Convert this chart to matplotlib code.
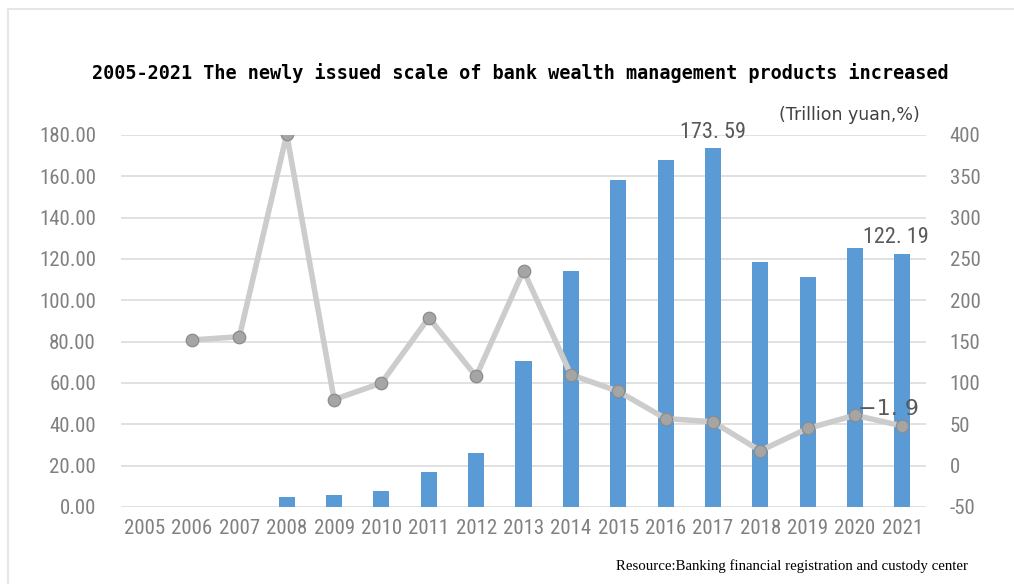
import matplotlib
matplotlib.use("Agg")
import matplotlib.pyplot as plt
import matplotlib.patches as mpatches
from matplotlib import font_manager as fm
import numpy as np

years = [str(y) for y in range(2005, 2022)]
# newly issued scale (trillion yuan), left axis
scale = [0, 0, 0, 4.9, 6.0, 7.9, 16.9, 26.3, 70.7, 114.3, 158.0, 167.7, 173.59,
         118.5, 111.5, 125.4, 122.19]
# growth rate (%), right axis; 2005 missing
growth = [np.nan, 152, 156, 401, 80, 100, 179, 108, 236, 110, 90, 57, 53,
          18, 45, 61, 48]
left_ticks = [0, 20, 40, 60, 80, 100, 120, 140, 160, 180]
right_ticks = [-50, 0, 50, 100, 150, 200, 250, 300, 350, 400]

C_BAR = "#5B9BD5"
C_LINE = "#CCCCCC"
C_MARK = "#A5A5A5"
C_TICK = "#808080"
C_GRID = "#D9D9D9"

available = {f.name for f in fm.fontManager.ttflist}
narrow = None
for cand in ["Liberation Sans Narrow", "Roboto Condensed", "Open Sans Condensed",
             "DejaVu Sans Condensed"]:
    if cand in available:
        narrow = cand
        break
if narrow is None:
    narrow = "Liberation Sans"
# size factor so wider fallbacks keep the reference's glyph width
k = 1.0 if narrow in ("Liberation Sans Narrow", "Roboto Condensed") else 0.87

plt.rcParams.update({"font.family": [narrow, "DejaVu Sans"],
                     "axes.unicode_minus": False})

fig = plt.figure(figsize=(10.14, 5.84), dpi=100)
fig.patch.set_facecolor("white")
ax = fig.add_axes([121 / 1014, 1 - 507 / 584, 805 / 1014, 372 / 584])
ax2 = ax.twinx()

x = np.arange(len(years))
ax.bar(x, scale, width=0.34, color=C_BAR, zorder=2)
ax.set_xlim(-0.5, len(years) - 0.5)
ax.set_ylim(0, 180)
ax.set_yticks(left_ticks)
ax.set_yticklabels([f"{v:.2f}" for v in left_ticks])
ax.set_xticks(x)
ax.set_xticklabels(years)
ax.grid(axis="y", color=C_GRID, lw=1.1, zorder=0)
ax.set_axisbelow(True)

ax2.plot(x, growth, color=C_LINE, lw=4, marker="o", markersize=9,
         markerfacecolor=C_MARK, markeredgecolor="#8C8C8C", markeredgewidth=0.9,
         zorder=3)
ax2.set_ylim(-50, 400)
ax2.set_yticks(right_ticks)

for a in (ax, ax2):
    for s in a.spines.values():
        s.set_visible(False)
    a.tick_params(length=0, labelsize=15 * k, labelcolor=C_TICK)
ax.tick_params(axis="y", pad=18)
ax.tick_params(axis="x", pad=9)
ax2.tick_params(axis="y", pad=17)

# data labels
ax.text(12, scale[12] + 2.5, "173. 59", ha="center", va="bottom",
        fontsize=16 * k, color="#595959")
ax.text(16.55, scale[16] + 3.0, "122. 19", ha="right", va="bottom",
        fontsize=16 * k, color="#595959")
ax2.text(16.35, growth[16] + 9, "\u22121. 9", ha="right", va="bottom",
         fontsize=16 * k, color="#595959", zorder=4, family="DejaVu Sans")

fig.text(520 / 1014, 1 - 73 / 584,
         "2005-2021 The newly issued scale of bank wealth management products increased",
         ha="center", va="center", fontsize=13.35, fontweight="bold",
         family="DejaVu Sans Mono", color="black")
fig.text(920 / 1014, 1 - 115 / 584, "(Trillion yuan,%)", ha="right", va="center",
         fontsize=12.5, family="DejaVu Sans", color="#404040")
fig.text(968 / 1014, 1 - 566 / 584,
         "Resource:Banking financial registration and custody center",
         ha="right", va="center", fontsize=10.7, family="Liberation Serif",
         color="black")

# light frame around the chart
frame = mpatches.Rectangle((8 / 1014, -0.2), 1.2, 1 - 9 / 584 + 0.2,
                           transform=fig.transFigure, fill=False,
                           edgecolor="#E6E6E6", lw=1.5, clip_on=False)
fig.patches.append(frame)

fig.savefig("out.png", dpi=100, facecolor="white")
